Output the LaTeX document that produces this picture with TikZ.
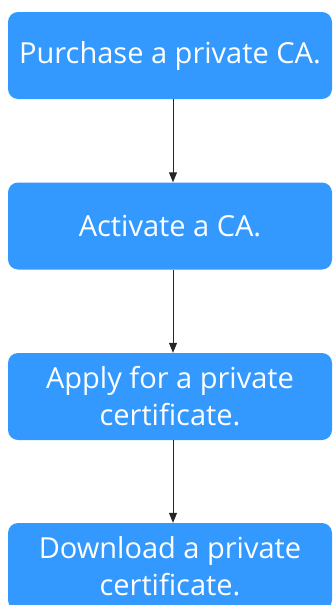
\documentclass[tikz,border=0pt]{standalone}
\usepackage{fontspec}
\setmainfont{Open Sans}
\usetikzlibrary{arrows.meta}
\definecolor{boxblue}{RGB}{51,153,255}
\begin{document}
\begin{tikzpicture}[x=1pt,y=-1pt,
  stepbox/.style={fill=boxblue, draw=none, rounded corners=10pt, minimum width=324pt, minimum height=87pt, text=white, align=center, inner sep=0pt, font=\fontsize{29}{37}\selectfont},
  conn/.style={draw=black!85, line width=1pt, -{Triangle[length=10pt,width=8pt]}}]
\useasboundingbox (0,0) rectangle (333,605);
\clip (0,0) rectangle (333,605);
\node[stepbox] (a) at (170,55.5) {Purchase a private CA.};
\node[stepbox] (b) at (170,226) {Activate a CA.};
\node[stepbox] (c) at (170,396.5) {Apply for a private\\certificate.};
\node[stepbox] (d) at (170,566.5) {Download a private\\certificate.};
\draw[conn] (a.south -| 173,0) -- (b.north -| 173,0);
\draw[conn] (b.south -| 173,0) -- (c.north -| 173,0);
\draw[conn] (c.south -| 173,0) -- (d.north -| 173,0);
\end{tikzpicture}
\end{document}
